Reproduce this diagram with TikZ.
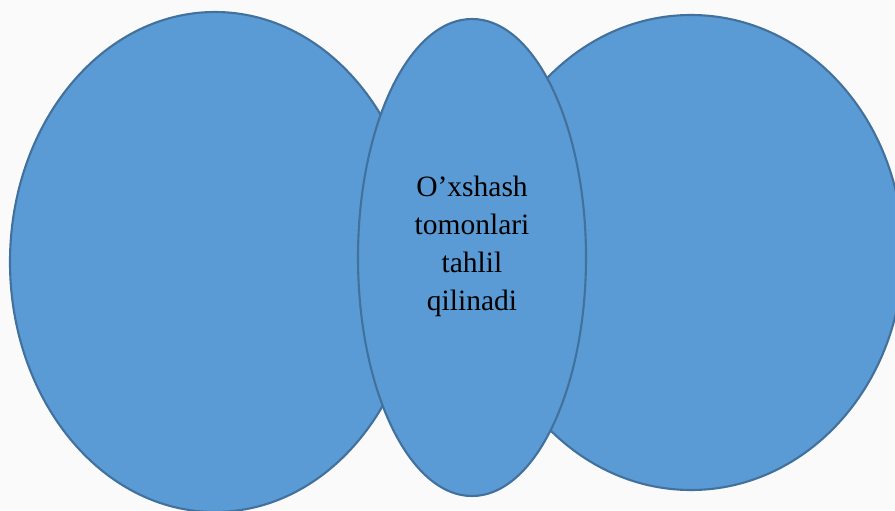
\documentclass[tikz,border=0pt]{standalone}
\usepackage{fontspec}
\setmainfont{Liberation Serif}
\usepackage{tikz}

\definecolor{blobfill}{RGB}{91,155,213}
\definecolor{blobline}{RGB}{65,113,156}
\definecolor{paper}{RGB}{250,250,250}

\tikzset{
  blob/.style={fill=blobfill, draw=blobline, line width=1.2pt},
  midtext/.style={align=center, font=\fontsize{16.8}{21.6}\selectfont}
}

\begin{document}
\begin{tikzpicture}[x=0.02cm, y=-0.02cm]
\fill[paper] (0,0) rectangle (895,510);
\useasboundingbox (0,0) rectangle (895,510);
    \draw[blob] (215,262) ellipse (205 and 250);
    \draw[blob] (691,252.5) ellipse (212 and 237.5);
    \draw[blob] (472,257.5) ellipse (114 and 238.5);
    \node[midtext] (same) at (472,246) {O’xshash\\tomonlari\\tahlil\\qilinadi};
\end{tikzpicture}
\end{document}
